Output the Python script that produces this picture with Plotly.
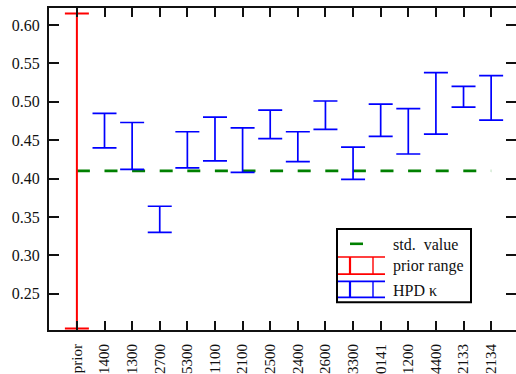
import plotly.graph_objects as go

# Categories along the x axis
labels = ["prior", "1400", "1300", "2700", "5300", "1100", "2100", "2500",
          "2400", "2600", "3300", "0141", "1200", "4400", "2133", "2134"]

# Prior range for kappa
prior_low = 0.205
prior_high = 0.615

# HPD intervals for kappa (one per station, labels[1:])
hpd_low = [0.440, 0.412, 0.330, 0.414, 0.423, 0.408, 0.452, 0.422,
           0.464, 0.399, 0.455, 0.432, 0.458, 0.493, 0.476]
hpd_high = [0.485, 0.473, 0.364, 0.461, 0.480, 0.466, 0.489, 0.461,
            0.501, 0.441, 0.497, 0.491, 0.538, 0.520, 0.534]

# Standard value of kappa
std_value = 0.41

yticks = [0.25, 0.30, 0.35, 0.40, 0.45, 0.50, 0.55, 0.60]

FONT = "Liberation Serif"
W, H = 516, 374
L, T, B = 49, 8, 41
X0, X1 = L, W
Y0, Y1 = T, H - B
XR = [-1.01, 15.9]
YR = [0.203, 0.622]


def px(x):
    return (x - X0) / (X1 - X0)


def py(y):
    return (Y1 - y) / (Y1 - Y0)


xs = list(range(len(labels)))

fig = go.Figure()

# standard value line
fig.add_trace(go.Scatter(
    x=[xs[0], xs[-1]], y=[std_value, std_value], mode="lines",
    line=dict(color="#008000", width=2.6, dash="13px,14.6px"),
    hoverinfo="skip", showlegend=False))

# prior range
fig.add_trace(go.Scatter(
    x=[xs[0]], y=[prior_low], mode="markers",
    marker=dict(size=1, color="rgba(0,0,0,0)"),
    error_y=dict(type="data", symmetric=False,
                 array=[prior_high - prior_low], arrayminus=[0],
                 color="#ff0000", thickness=2, width=12),
    showlegend=False))

# HPD intervals
fig.add_trace(go.Scatter(
    x=xs[1:], y=hpd_low, mode="markers",
    marker=dict(size=1, color="rgba(0,0,0,0)"),
    error_y=dict(type="data", symmetric=False,
                 array=[h - l for h, l in zip(hpd_high, hpd_low)],
                 arrayminus=[0] * len(hpd_low),
                 color="#0000ff", thickness=1.7, width=12),
    showlegend=False))

# invisible trace carrying the right-hand tick axis
fig.add_trace(go.Scatter(x=[xs[0]], y=[YR[0]], yaxis="y2", mode="markers",
                         marker=dict(size=1, color="rgba(0,0,0,0)"),
                         hoverinfo="skip", showlegend=False))

xfont = dict(family=FONT, size=15, color="#111")
yfont = dict(family=FONT, size=16, color="#111")

fig.update_layout(
    width=W, height=H,
    margin=dict(l=L, r=0, t=T, b=B, pad=0),
    paper_bgcolor="white", plot_bgcolor="white",
    showlegend=False,
    xaxis=dict(range=XR, tickmode="array", tickvals=xs, ticktext=labels,
               tickangle=-90, ticks="inside", ticklen=9, tickwidth=1.7,
               tickcolor="#111", showline=True, linecolor="#111", linewidth=2,
               mirror="ticks", showgrid=False, zeroline=False,
               tickfont=xfont, ticklabelstandoff=6),
    yaxis=dict(range=YR, tickmode="array", tickvals=yticks,
               ticktext=[f"{v:.2f}" for v in yticks],
               ticks="inside", ticklen=10, tickwidth=2, tickcolor="#111",
               showline=True, linecolor="#111", linewidth=2, mirror=False,
               showgrid=False, zeroline=False, tickfont=yfont,
               ticklabelstandoff=4),
    yaxis2=dict(range=YR, overlaying="y", side="right", tickmode="array",
                tickvals=yticks, showticklabels=False, ticks="inside",
                ticklen=10, tickwidth=2, tickcolor="#111", showline=False,
                showgrid=False, zeroline=False),
)

# key box
shapes = [dict(type="rect", xref="paper", yref="paper",
               x0=px(337), x1=px(471), y0=py(305), y1=py(231),
               line=dict(color="black", width=2), fillcolor="white")]
# std. value sample
shapes.append(dict(type="line", xref="paper", yref="paper",
                   x0=px(350), x1=px(363), y0=py(246), y1=py(246),
                   line=dict(color="#008000", width=2.6)))
# error-bar samples
for color, ytop, ybot in [("#ff0000", 259.3, 276.7), ("#0000ff", 284, 300)]:
    for yy in (ytop, ybot):
        shapes.append(dict(type="line", xref="paper", yref="paper",
                           x0=px(338), x1=px(385), y0=py(yy), y1=py(yy),
                           line=dict(color=color, width=1.7)))
    for xx, wv in ((350, 2.2), (373, 1.4)):
        shapes.append(dict(type="line", xref="paper", yref="paper",
                           x0=px(xx), x1=px(xx), y0=py(ytop), y1=py(ybot),
                           line=dict(color=color, width=wv)))
fig.update_layout(shapes=shapes)

for text, yc in [("std.  value", 246.5), ("prior range", 268.5), ("HPD κ", 293)]:
    fig.add_annotation(x=px(391), y=py(yc), xref="paper", yref="paper",
                       text=text, showarrow=False, xanchor="left",
                       yanchor="middle", font=dict(family=FONT, size=16, color="#111"))

fig.write_html("out.html")
